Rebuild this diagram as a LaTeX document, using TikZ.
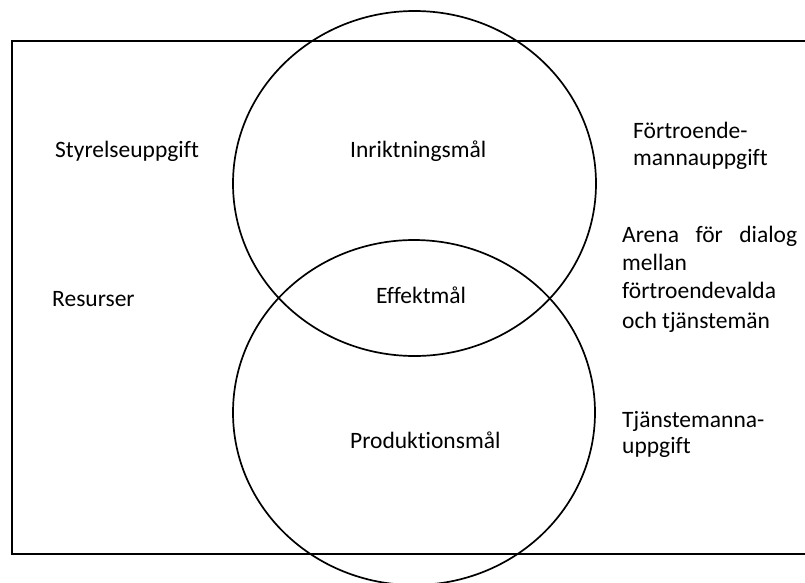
\documentclass[tikz,border=0pt]{standalone}
\usepackage{fontspec}
\setmainfont[Ligatures=NoCommon]{Carlito}
\begin{document}
\begin{tikzpicture}[x=1pt,y=-1pt,
  frame/.style={draw=black,line width=2pt},
  goal/.style={draw=black,line width=1.7pt},
  lbl/.style={anchor=base west,inner sep=0pt,font=\fontsize{23.5}{28}\selectfont}]
  \useasboundingbox (0,0) rectangle (805,582);
  \clip (0,0) rectangle (805,582);
  \fill[white] (0,0) rectangle (805,582);
  % outer frame, open past the right border
  \draw[frame] (830,41) -- (12,41) -- (12,554) -- (830,554);
  % the two overlapping goal ellipses
  \draw[goal] (414.5,183.5) ellipse [x radius=181.5pt, y radius=172.5pt];
  \draw[goal] (414,412.5) ellipse [x radius=181pt, y radius=172.5pt];
  % labels on the left
  \node[lbl] (styr) at (55,157) {Styrelseuppgift};
  \node[lbl] (res) at (52,306) {Resurser};
  % labels inside the ellipses
  \node[lbl] (inr) at (350,157) {Inriktningsmål};
  \node[lbl] (eff) at (376,303) {Effektmål};
  \node[lbl] (prod) at (350,448) {Produktionsmål};
  % labels on the right
  \node[lbl] (fort1) at (633,138) {Förtroende-};
  \node[lbl] (fort2) at (633,165) {mannauppgift};
  \node[lbl] (arena1) at (622,242) {\makebox[175pt][s]{Arena\hfill för\hfill dialog}};
  \node[lbl] (arena2) at (622,270) {mellan};
  \node[lbl] (arena3) at (622,298) {förtroendevalda};
  \node[lbl] (arena4) at (622,328) {och tjänstemän};
  \node[lbl] (tj1) at (622,427) {Tjänstemanna-};
  \node[lbl] (tj2) at (622,453) {uppgift};
\end{tikzpicture}
\end{document}
